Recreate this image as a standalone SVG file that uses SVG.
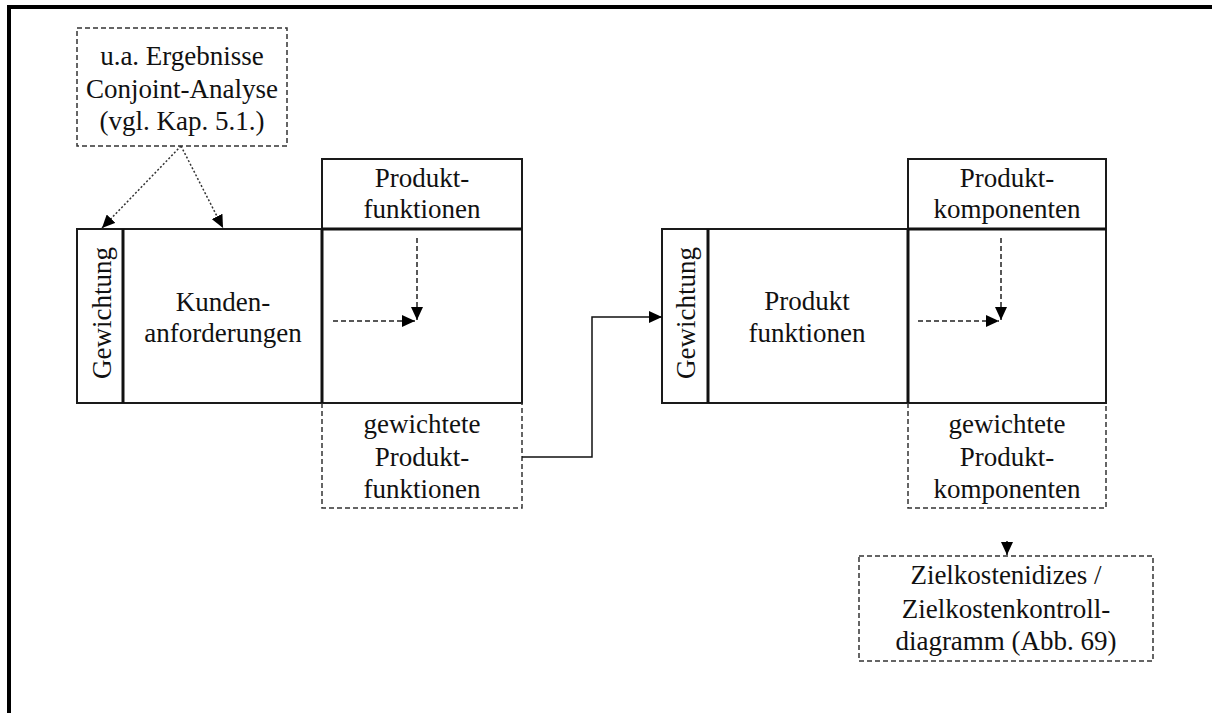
<svg xmlns="http://www.w3.org/2000/svg" width="1212" height="713" viewBox="0 0 1212 713">
  <style>
    .t { font-family: "Liberation Serif", "Times New Roman", serif; font-size: 27px; fill: #111; text-anchor: middle; }
    .box { fill: none; stroke: #1a1a1a; stroke-width: 2; }
    .thick { fill: none; stroke: #111; stroke-width: 3; }
    .dash { fill: none; stroke: #333; stroke-width: 1.5; stroke-dasharray: 5 3; }
    .dot { fill: none; stroke: #333; stroke-width: 1.5; stroke-dasharray: 2 2; }
    .arrowdash { fill: none; stroke: #222; stroke-width: 1.5; stroke-dasharray: 5 3; }
    .solid { fill: none; stroke: #111; stroke-width: 1.5; }
  </style>
  <defs>
    <marker id="head" markerUnits="userSpaceOnUse" markerWidth="14" markerHeight="12" refX="13" refY="6" orient="auto">
      <path d="M0,0 L13,6 L0,12 Z" fill="#000"/>
    </marker>
  </defs>

  <rect width="1212" height="713" fill="#fff"/>

  <!-- page frame -->
  <g id="frame">
    <line x1="9" y1="5" x2="9" y2="713" stroke="#000" stroke-width="4"/>
    <line x1="7" y1="7" x2="1212" y2="7" stroke="#000" stroke-width="4"/>
  </g>

  <!-- source note -->
  <g id="conjoint">
    <rect class="dash" x="77" y="28" width="210" height="118"/>
    <text class="t" x="182" y="65">u.a. Ergebnisse</text>
    <text class="t" x="182" y="98">Conjoint-Analyse</text>
    <text class="t" x="182" y="130">(vgl. Kap. 5.1.)</text>
  </g>

  <!-- first matrix -->
  <g id="matrix1">
    <rect class="box" x="77" y="229" width="445" height="174"/>
    <line class="thick" x1="123" y1="229" x2="123" y2="403"/>
    <line class="thick" x1="322" y1="229" x2="322" y2="403"/>
    <text class="t" transform="translate(111,313) rotate(-90)">Gewichtung</text>
    <text class="t" x="223" y="311">Kunden-</text>
    <text class="t" x="223" y="342">anforderungen</text>
  </g>
  <g id="header1">
    <rect class="box" x="322" y="159" width="200" height="70"/>
    <line class="thick" x1="322" y1="229" x2="522" y2="229"/>
    <text class="t" x="422" y="187">Produkt-</text>
    <text class="t" x="422" y="218">funktionen</text>
  </g>
  <g id="result1">
    <path class="dash" d="M322,403 V508 H522 V403"/>
    <text class="t" x="422" y="433">gewichtete</text>
    <text class="t" x="422" y="466">Produkt-</text>
    <text class="t" x="422" y="498">funktionen</text>
  </g>

  <!-- second matrix -->
  <g id="matrix2">
    <rect class="box" x="662" y="229" width="444" height="174"/>
    <line class="thick" x1="708" y1="229" x2="708" y2="403"/>
    <line class="thick" x1="908" y1="229" x2="908" y2="403"/>
    <text class="t" transform="translate(695,313) rotate(-90)">Gewichtung</text>
    <text class="t" x="807" y="310">Produkt</text>
    <text class="t" x="807" y="342">funktionen</text>
  </g>
  <g id="header2">
    <rect class="box" x="908" y="159" width="198" height="70"/>
    <line class="thick" x1="908" y1="229" x2="1106" y2="229"/>
    <text class="t" x="1007" y="187">Produkt-</text>
    <text class="t" x="1007" y="218">komponenten</text>
  </g>
  <g id="result2">
    <path class="dash" d="M908,403 V508 H1106 V403"/>
    <text class="t" x="1007" y="433">gewichtete</text>
    <text class="t" x="1007" y="466">Produkt-</text>
    <text class="t" x="1007" y="498">komponenten</text>
  </g>

  <!-- target cost output -->
  <g id="zielkosten">
    <rect class="dash" x="859" y="556" width="294" height="105"/>
    <text class="t" x="1006" y="584">Zielkostenidizes /</text>
    <text class="t" x="1006" y="618">Zielkostenkontroll-</text>
    <text class="t" x="1006" y="650">diagramm (Abb. 69)</text>
  </g>

  <!-- connectors -->
  <g id="connectors">
    <line class="dot" x1="181" y1="146" x2="102" y2="228" marker-end="url(#head)"/>
    <line class="dot" x1="181" y1="146" x2="223" y2="228" marker-end="url(#head)"/>
    <line class="arrowdash" x1="417" y1="238" x2="417" y2="320" marker-end="url(#head)"/>
    <line class="arrowdash" x1="333" y1="321" x2="415" y2="321" marker-end="url(#head)"/>
    <line class="arrowdash" x1="1001" y1="238" x2="1001" y2="320" marker-end="url(#head)"/>
    <line class="arrowdash" x1="918" y1="321" x2="999" y2="321" marker-end="url(#head)"/>
    <path class="solid" d="M522,457 H592 V317 H662" marker-end="url(#head)"/>
    <line class="solid" x1="1007" y1="541" x2="1007" y2="555" stroke="none" marker-end="url(#head)"/>
  </g>
</svg>
